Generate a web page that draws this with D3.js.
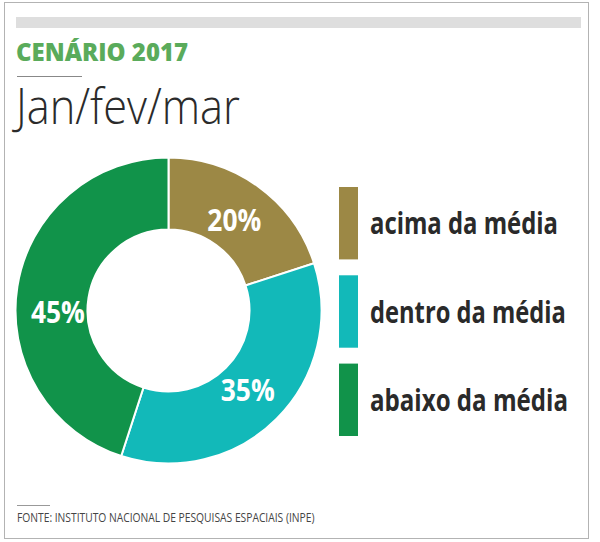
<!DOCTYPE html>
<html lang="pt">
<head>
<meta charset="utf-8">
<title>Cenário 2017</title>
<script src="https://cdnjs.cloudflare.com/ajax/libs/d3/7.8.5/d3.min.js"></script>
<style>
  body { margin: 0; background: #fff; }
  text { font-family: "Open Sans", sans-serif; }
</style>
</head>
<body>
<div id="chart"></div>
<script>
// data
const categories = ["acima da média", "dentro da média", "abaixo da média"];
const shares = [20, 35, 45];
const colours = ["#9c8845", "#12b9b9", "#11934a"];

const title = "CENÁRIO 2017";
const subtitle = "Jan/fev/mar";
const source = "FONTE: INSTITUTO NACIONAL DE PESQUISAS ESPACIAIS (INPE)";

const width = 600;
const height = 542;
const cx = 168.5;
const cy = 310.5;
const outerR = 153;
const innerR = 81;

const svg = d3.select("#chart")
  .append("svg")
  .attr("width", width)
  .attr("height", height);

// the original uses a condensed face, so squeeze each text to its measured width
function condense(sel, w) {
  sel.each(function(d) {
    const target = typeof w === "function" ? w(d) : w;
    const k = target / this.getComputedTextLength();
    const t = this.getAttribute("transform") || "";
    this.setAttribute("transform", t + " scale(" + k + ",1)");
  });
}

// frame + grey top band
svg.append("rect")
  .attr("x", 4.5).attr("y", 2.5)
  .attr("width", 584).attr("height", 536)
  .attr("fill", "#fff")
  .attr("stroke", "#b3b3b3");

svg.append("rect")
  .attr("x", 16).attr("y", 17)
  .attr("width", 565).attr("height", 11)
  .attr("fill", "#dedede");

// headings
svg.append("text")
  .attr("transform", "translate(16,61)")
  .attr("font-size", 24).attr("font-weight", 800)
  .attr("fill", "#5aab5b")
  .text(title)
  .call(condense, 172);

svg.append("line")
  .attr("x1", 17).attr("x2", 82)
  .attr("y1", 76.5).attr("y2", 76.5)
  .attr("stroke", "#888");

svg.append("text")
  .attr("transform", "translate(16,124)")
  .attr("font-size", 50).attr("font-weight", 300)
  .attr("fill", "#2b2b2b")
  .text(subtitle)
  .call(condense, 224);

// donut
const colour = d3.scaleOrdinal().domain(categories).range(colours);

const slices = d3.pie()
  .sort(null)
  .value(d => d.value)(categories.map((c, i) => ({ name: c, value: shares[i] })));

const arc = d3.arc().innerRadius(innerR).outerRadius(outerR);
const labelArc = d3.arc().innerRadius(112).outerRadius(112);

const donut = svg.append("g")
  .attr("transform", "translate(" + cx + "," + cy + ")");

donut.selectAll("path")
  .data(slices)
  .enter()
  .append("path")
    .attr("d", arc)
    .attr("fill", d => colour(d.data.name))
    .attr("stroke", "#fff")
    .attr("stroke-width", 2);

// biggest slice label sits on the horizontal axis in the original
const labelNudge = { "abaixo da média": 19 };

donut.selectAll("text.pct")
  .data(slices)
  .enter()
  .append("text")
    .attr("class", "pct")
    .attr("transform", d => {
      const [x, y] = labelArc.centroid(d);
      return "translate(" + x + "," + (y + (labelNudge[d.data.name] || 0)) + ")";
    })
    .attr("text-anchor", "middle")
    .attr("dy", "0.36em")
    .attr("font-size", 30).attr("font-weight", 700)
    .attr("fill", "#fff")
    .text(d => d.data.value + "%")
    .call(condense, 54);

// legend
const legendY = d3.scaleBand()
  .domain(categories)
  .range([187, 436])
  .paddingInner(0.18);

const legend = svg.append("g").attr("class", "legend");

legend.selectAll("rect")
  .data(categories)
  .enter()
  .append("rect")
    .attr("x", 339)
    .attr("y", d => legendY(d))
    .attr("width", 19)
    .attr("height", legendY.bandwidth())
    .attr("fill", d => colour(d));

const legendWidths = { "acima da média": 188, "dentro da média": 196, "abaixo da média": 198 };

legend.selectAll("text")
  .data(categories)
  .enter()
  .append("text")
    .attr("transform", d => "translate(370," + (legendY(d) + legendY.bandwidth() / 2 + 11) + ")")
    .attr("font-size", 30).attr("font-weight", 700)
    .attr("fill", "#2a2a2a")
    .text(d => d)
    .call(condense, d => legendWidths[d]);

// source
svg.append("line")
  .attr("x1", 17).attr("x2", 50)
  .attr("y1", 505.5).attr("y2", 505.5)
  .attr("stroke", "#999");

svg.append("text")
  .attr("transform", "translate(17,522)")
  .attr("font-size", 12)
  .attr("fill", "#444")
  .text(source)
  .call(condense, 298);
</script>
</body>
</html>
